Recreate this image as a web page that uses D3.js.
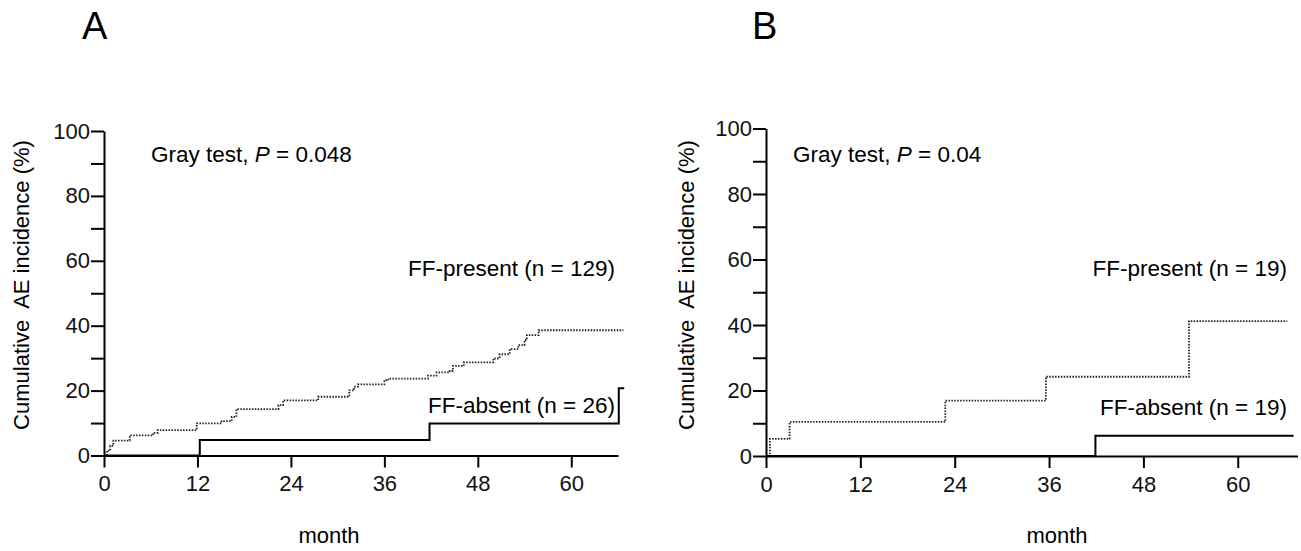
<!DOCTYPE html>
<html>
<head>
<meta charset="utf-8">
<script src="https://cdn.jsdelivr.net/npm/d3@7"></script>
<style>
  body { margin: 0; background: #fff; }
  svg { display: block; font-family: "Liberation Sans", Arial, sans-serif; }
  .axis path, .axis line { stroke: #000; stroke-width: 2; }
  .axis text { font-size: 22px; fill: #111; font-family: "Liberation Sans", Arial, sans-serif; }
</style>
</head>
<body>
<svg id="chart" width="1301" height="551"></svg>
<script>
// tick values
const monthTicks = [0, 12, 24, 36, 48, 60];
const pctTicks = [0, 10, 20, 30, 40, 50, 60, 70, 80, 90, 100];

// panel A: [month, cumulative incidence %]
const aPresent = [
    [0, 0], [0.4, 1.5], [0.8, 3.0], [1.2, 4.6], [3.3, 6.2], [6.3, 7.0], [6.9, 7.8],
    [11.9, 9.9], [15.1, 10.6], [16.4, 11.9], [17.0, 14.3], [22.4, 15.5], [23.0, 17.0],
    [27.5, 18.1], [31.5, 20.1], [32.1, 21.2], [32.6, 21.9], [36.0, 23.2], [36.5, 23.7],
    [41.6, 24.6], [42.7, 25.6], [44.4, 26.1], [44.8, 27.6], [46.2, 28.7], [50.0, 29.9],
    [50.8, 31.2], [52.1, 32.8], [53.2, 34.0], [54.0, 35.6], [54.3, 37.1], [55.8, 38.6],
    [66.7, 38.6]
];
const aAbsent = [[0, 0], [12.3, 4.8], [41.8, 9.9], [66.1, 20.7], [66.8, 20.7]];

// panel B
const bPresent = [[0, 0], [0.5, 5.2], [3.0, 10.4], [22.8, 16.9], [35.6, 24.2], [53.8, 41.2], [66.3, 41.2]];
const bAbsent = [[0, 0], [41.9, 6.2], [67.1, 6.2]];

const panelNames = ["A", "B"];
const pValues = ["0.048", "0.04"];
const presentLabels = ["FF-present (n = 129)", "FF-present (n = 19)"];
const absentLabels = ["FF-absent (n = 26)", "FF-absent (n = 19)"];

// layout only
const layouts = [
    { left: 104, right: 618, top: 131, bottom: 455.5, xMax: 66,
      name: [82, 39], yTitle: [29, 285], month: [329, 543],
      gray: [151, 162], present: [615, 276], absent: [615, 413] },
    { left: 766, right: 1297.5, top: 128.5, bottom: 456, xMax: 67.6,
      name: [752, 39], yTitle: [694, 285], month: [1057, 543],
      gray: [793, 162], present: [1287, 276], absent: [1287, 415] }
];

const svg = d3.select("#chart");

function drawPanel(i, present, absent) {
    let L = layouts[i];
    let x = d3.scaleLinear().domain([0, L.xMax]).range([L.left, L.right]);
    let y = d3.scaleLinear().domain([0, 100]).range([L.bottom, L.top]);
    let g = svg.append("g");

    g.append("g")
        .attr("class", "axis")
        .attr("transform", `translate(0,${L.bottom})`)
        .call(d3.axisBottom(x).tickValues(monthTicks).tickSize(12).tickSizeOuter(0).tickPadding(8));

    g.append("g")
        .attr("class", "axis")
        .attr("transform", `translate(${L.left},0)`)
        .call(d3.axisLeft(y).tickValues(pctTicks).tickSize(13).tickSizeOuter(0).tickPadding(1)
            .tickFormat(d => d % 20 === 0 ? d : ""));

    let line = d3.line()
        .x(d => x(d[0]))
        .y(d => y(d[1]))
        .curve(d3.curveStepAfter);

    g.append("path")
        .datum(present)
        .attr("d", line)
        .attr("fill", "none")
        .attr("stroke", "#222")
        .attr("stroke-width", 1.8)
        .attr("stroke-dasharray", "1.5,1.4");

    g.append("path")
        .datum(absent)
        .attr("d", line)
        .attr("fill", "none")
        .attr("stroke", "#000")
        .attr("stroke-width", 2);

    // texts
    g.append("text")
        .attr("x", L.name[0]).attr("y", L.name[1])
        .style("font-size", "38px")
        .text(panelNames[i]);

    g.append("text")
        .attr("transform", `translate(${L.yTitle[0]},${L.yTitle[1]}) rotate(-90)`)
        .attr("text-anchor", "middle")
        .style("font-size", "22px")
        .style("white-space", "pre")
        .text("Cumulative  AE incidence (%)");

    g.append("text")
        .attr("x", L.month[0]).attr("y", L.month[1])
        .attr("text-anchor", "middle")
        .style("font-size", "22px")
        .text("month");

    let gt = g.append("text")
        .attr("x", L.gray[0]).attr("y", L.gray[1])
        .style("font-size", "22.5px");
    gt.append("tspan").text("Gray test, ");
    gt.append("tspan").style("font-style", "italic").text("P");
    gt.append("tspan").text(" = " + pValues[i]);

    g.append("text")
        .attr("x", L.present[0]).attr("y", L.present[1])
        .attr("text-anchor", "end")
        .style("font-size", "22.5px")
        .text(presentLabels[i]);

    g.append("text")
        .attr("x", L.absent[0]).attr("y", L.absent[1])
        .attr("text-anchor", "end")
        .style("font-size", "22.5px")
        .text(absentLabels[i]);
}

drawPanel(0, aPresent, aAbsent);
drawPanel(1, bPresent, bAbsent);
</script>
</body>
</html>
